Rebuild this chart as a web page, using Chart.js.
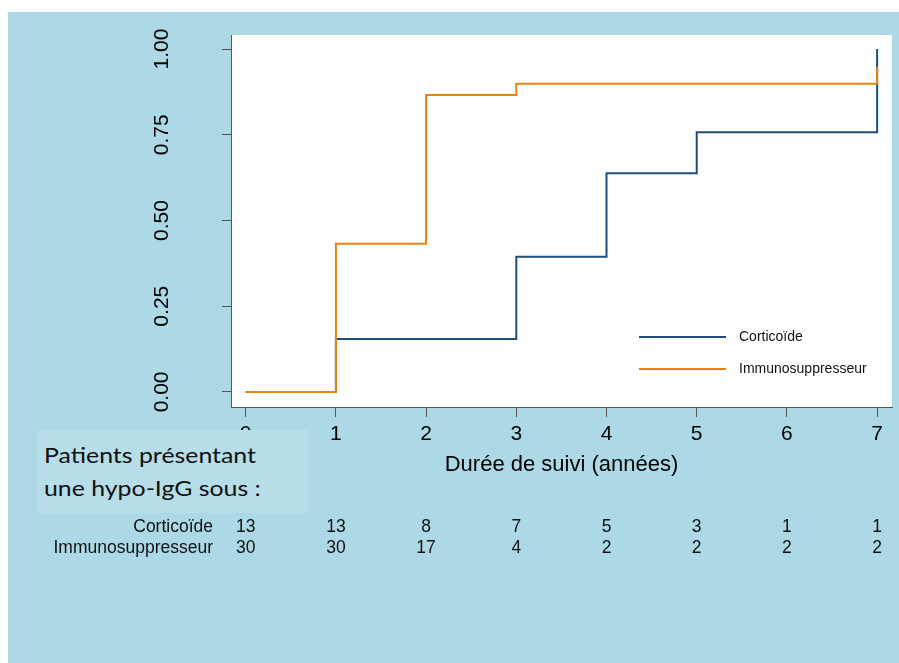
<!DOCTYPE html>
<html>
<head>
<meta charset="utf-8">
<script src="https://cdn.jsdelivr.net/npm/chart.js@4"></script>
<style>
  body { margin: 0; background: #fff; }
  #wrap { position: relative; width: 899px; height: 663px; }
  #note {
    position: absolute; left: 37px; top: 430px; width: 271px; height: 83px;
    background: #b6dde8; font-family: Lato, "Open Sans", sans-serif; font-size: 22px; color: #111;
  }
  #note div {
    position: absolute; left: 7px; line-height: 26px; white-space: nowrap;
    transform: scaleX(1.13); transform-origin: left center;
  }
</style>
</head>
<body>
<div id="wrap">
  <canvas id="km" width="899" height="663"></canvas>
  <div id="note">
    <div style="top:12px">Patients présentant</div>
    <div style="top:45px">une hypo-IgG sous :</div>
  </div>
</div>
<script>
// follow-up years (x ticks) and number at risk under each tick
const years = [0, 1, 2, 3, 4, 5, 6, 7];
const yTicks = [0, 0.25, 0.5, 0.75, 1];
const riskCortico = [13, 13, 8, 7, 5, 3, 1, 1];
const riskImmuno = [30, 30, 17, 4, 2, 2, 2, 2];

// step points (time, cumulative incidence)
const corticoTime = [0, 1, 3, 4, 5, 7];
const corticoValue = [0, 0.154, 0.394, 0.638, 0.757, 1.0];
const immunoTime = [0, 1, 2, 3, 7];
const immunoValue = [0, 0.432, 0.866, 0.899, 0.948];

const seriesNames = ['Corticoïde', 'Immunosuppresseur'];
const blue = '#1f4e7c';
const orange = '#e8830f';
const panelBlue = '#add8e6';

const toPoints = (xs, ys) => xs.map((x, i) => ({ x: x, y: ys[i] }));

// light blue panel + white plot area
const background = {
  id: 'background',
  beforeDraw(chart) {
    const { ctx, chartArea: a } = chart;
    ctx.save();
    ctx.fillStyle = '#fff';
    ctx.fillRect(0, 0, chart.width, chart.height);
    ctx.fillStyle = panelBlue;
    ctx.fillRect(8, 12, chart.width - 8, chart.height - 12);
    ctx.fillStyle = '#fff';
    ctx.fillRect(a.left, a.top, a.right - a.left, a.bottom - a.top);
    ctx.restore();
  }
};

// legend inside the plot and the number-at-risk table
const extras = {
  id: 'extras',
  afterDraw(chart) {
    const { ctx } = chart;
    const xs = chart.scales.x;
    ctx.save();
    const colors = [blue, orange];
    ctx.font = '14px "Liberation Sans", Arial, sans-serif';
    ctx.textBaseline = 'middle';
    seriesNames.forEach((name, i) => {
      const y = 337 + i * 32;
      ctx.strokeStyle = colors[i];
      ctx.lineWidth = 2;
      ctx.beginPath();
      ctx.moveTo(639, y);
      ctx.lineTo(726, y);
      ctx.stroke();
      ctx.fillStyle = '#111';
      ctx.textAlign = 'left';
      ctx.fillText(name, 739, y);
    });

    ctx.font = '17.5px "Liberation Sans", Arial, sans-serif';
    ctx.fillStyle = '#111';
    [riskCortico, riskImmuno].forEach((row, r) => {
      const y = 527 + r * 21.5;
      ctx.textAlign = 'right';
      ctx.fillText(seriesNames[r], 213, y);
      ctx.textAlign = 'center';
      row.forEach((n, i) => ctx.fillText(String(n), xs.getPixelForValue(years[i]), y));
    });
    ctx.restore();
  }
};

new Chart(document.getElementById('km'), {
  type: 'line',
  data: {
    datasets: [
      { label: seriesNames[0], data: toPoints(corticoTime, corticoValue), borderColor: blue, order: 1 },
      { label: seriesNames[1], data: toPoints(immunoTime, immunoValue), borderColor: orange, order: 0 }
    ]
  },
  options: {
    responsive: false,
    animation: false,
    devicePixelRatio: 1,
    layout: { padding: { top: 35, right: 7, bottom: 185, left: 0 } },
    elements: {
      line: { stepped: 'before', borderWidth: 2, tension: 0, fill: false },
      point: { radius: 0 }
    },
    plugins: { legend: { display: false }, tooltip: { enabled: false } },
    scales: {
      x: {
        type: 'linear',
        min: -0.163,
        max: 7.165,
        afterBuildTicks: s => { s.ticks = years.map(v => ({ value: v })); },
        afterFit: s => { s.height = 71; s.paddingLeft = 0; s.paddingRight = 0; },
        grid: { drawOnChartArea: false, tickLength: 10, color: '#555' },
        border: { color: '#555', width: 1 },
        ticks: {
          color: '#000', padding: 5, maxRotation: 0, autoSkip: false,
          font: { family: '"Liberation Sans", Arial, sans-serif', size: 21 },
          callback: v => String(v)
        },
        title: {
          display: true, text: 'Durée de suivi (années)', color: '#000',
          padding: { top: 0, bottom: 0 },
          font: { family: '"Liberation Sans", Arial, sans-serif', size: 22 }
        }
      },
      y: {
        min: -0.044,
        max: 1.041,
        afterBuildTicks: s => { s.ticks = yTicks.map(v => ({ value: v })); },
        afterFit: s => { s.width = 231; s.paddingTop = 0; s.paddingBottom = 0; },
        grid: { drawOnChartArea: false, tickLength: 9, color: '#555' },
        border: { color: '#555', width: 1 },
        ticks: {
          color: '#000', padding: 39, minRotation: 90, maxRotation: 90, crossAlign: 'center',
          font: { family: '"Liberation Sans", Arial, sans-serif', size: 21 },
          callback: v => Number(v).toFixed(2)
        }
      }
    }
  },
  plugins: [background, extras]
});
</script>
</body>
</html>
